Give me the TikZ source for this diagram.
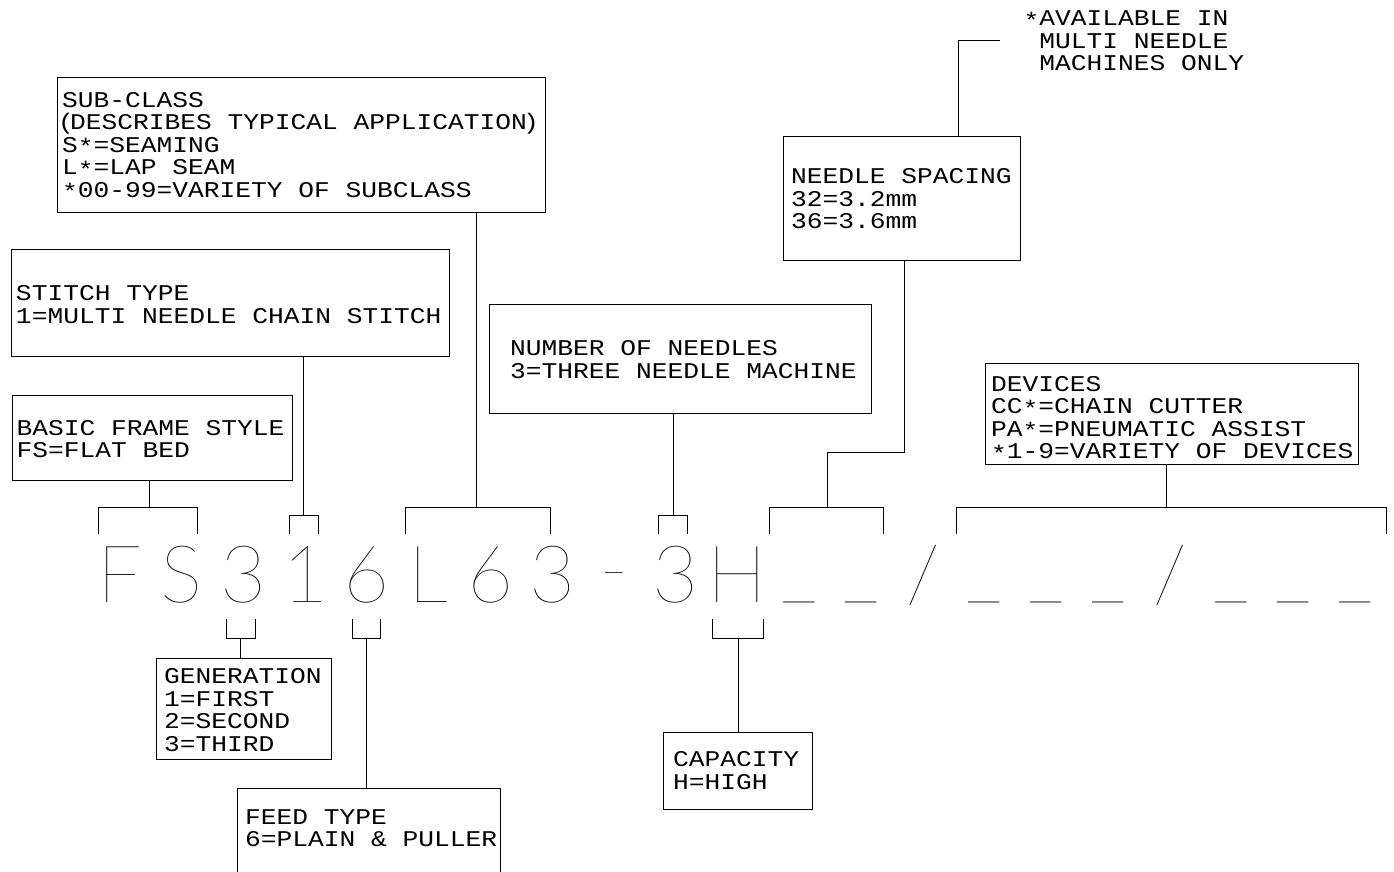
\documentclass[tikz,border=0pt]{standalone}
\usepackage{fontspec}
\newfontfamily\lblfont{Liberation Mono}[FakeStretch=1.167]
\IfFontExistsTF{Lato Hairline}
  {\newfontfamily\codefont{Lato Hairline}\def\usraise{10pt}\def\hyraise{6pt}\def\codesize{79.5}}
  {\IfFontExistsTF{Lato Thin}
    {\newfontfamily\codefont{Lato Thin}\def\usraise{10pt}\def\hyraise{6pt}\def\codesize{79.5}}
    {\IfFontExistsTF{Lato Light}
      {\newfontfamily\codefont{Lato Light}\def\usraise{10pt}\def\hyraise{6pt}\def\codesize{79.5}}
      {\newfontfamily\codefont{DejaVu Sans}\def\usraise{17pt}\def\hyraise{8pt}\def\codesize{78.2}}}}
\newcommand\codecell[1]{\makebox[61.75pt][c]{#1}}
\newcommand\blankcell{\codecell{\raisebox{\usraise}{\textunderscore}}}
\newcommand\lowast{\raisebox{-2.5pt}{*}}
\newcommand\nparen[1]{\makebox[8pt][c]{#1}}
\begin{document}
\begin{tikzpicture}[x=1pt,y=-1pt,line width=1pt,
  box/.style={draw,line width=1pt,inner sep=0pt},
  lbl/.style={font=\lblfont\fontsize{22.5}{22.5}\selectfont,align=left,inner sep=0pt,anchor=west},
  code/.style={font=\codefont\fontsize{\codesize}{90}\selectfont,inner sep=0pt,anchor=base west}]
\useasboundingbox (0,0) rectangle (1394,871);
\clip (0,0) rectangle (1394,871);

% ---------- boxes ----------
\node[box,minimum width=488pt,minimum height=135pt] (sub) at (301,144.5) {};
\node[lbl] (subt) at ([xshift=5pt,yshift=-1.5pt]sub.west) {SUB-CLASS\\\nparen{(}DESCRIBES TYPICAL APPLICATION\nparen{)}\\S\lowast=SEAMING\\L\lowast=LAP SEAM\\\lowast00-99=VARIETY OF SUBCLASS};

\node[box,minimum width=438pt,minimum height=107pt] (stitch) at (230,302.5) {};
\node[lbl] (stitcht) at ([xshift=5pt,yshift=-2pt]stitch.west) {STITCH TYPE\\1=MULTI NEEDLE CHAIN STITCH};

\node[box,minimum width=280pt,minimum height=85pt] (basic) at (152,437.5) {};
\node[lbl] (basict) at ([xshift=4.5pt,yshift=-1.5pt]basic.west) {BASIC FRAME STYLE\\FS=FLAT BED};

\node[box,minimum width=382pt,minimum height=109pt] (needles) at (680,358.5) {};
\node[lbl] (needlest) at ([xshift=21pt,yshift=-1pt]needles.west) {NUMBER OF NEEDLES\\3=THREE NEEDLE MACHINE};

\node[box,minimum width=237pt,minimum height=124pt] (spacing) at (901.5,198) {};
\node[lbl] (spacingt) at ([xshift=8pt,yshift=-1pt]spacing.west) {NEEDLE SPACING\\32=3.2mm\\36=3.6mm};

\node[box,minimum width=373pt,minimum height=101pt] (devices) at (1171.5,413.5) {};
\node[lbl] (devicest) at ([xshift=6pt,yshift=-5pt]devices.west) {DEVICES\\CC\lowast=CHAIN CUTTER\\PA\lowast=PNEUMATIC ASSIST\\\lowast1-9=VARIETY OF DEVICES};

\node[box,minimum width=175pt,minimum height=101pt] (gen) at (243.5,708.5) {};
\node[lbl] (gent) at ([xshift=8pt,yshift=-1.5pt]gen.west) {GENERATION\\1=FIRST\\2=SECOND\\3=THIRD};

\node[box,minimum width=263pt,minimum height=88pt] (feed) at (368.5,832) {};
\node[lbl] (feedt) at ([xshift=8pt,yshift=4pt]feed.west) {FEED TYPE\\6=PLAIN \& PULLER};

\node[box,minimum width=149pt,minimum height=77pt] (cap) at (737.5,770.5) {};
\node[lbl] (capt) at ([xshift=10pt]cap.west) {CAPACITY\\H=HIGH};

\node[lbl] (note) at (1023,40.7) {\lowast AVAILABLE IN\\\hphantom{*}MULTI NEEDLE\\\hphantom{*}MACHINES ONLY};

% ---------- model code ----------
\node[code] (code) at (88.6,602.7) {\codecell{F}\codecell{S}\codecell{3}\codecell{1}\codecell{6}\codecell{L}\codecell{6}\codecell{3}\codecell{\raisebox{\hyraise}{-}}\codecell{3}\codecell{H}\blankcell\blankcell\codecell{/}\blankcell\blankcell\blankcell\codecell{/}\blankcell\blankcell\blankcell};

% ---------- upper brackets ----------
\coordinate (bA) at (149.5,507); \coordinate (bAl) at (98,534);    \coordinate (bAr) at (197,534);
\coordinate (bB) at (303.6,515); \coordinate (bBl) at (289,534);   \coordinate (bBr) at (318,534);
\coordinate (bC) at (476,507);   \coordinate (bCl) at (405,534);   \coordinate (bCr) at (550,534);
\coordinate (bD) at (673,515);   \coordinate (bDl) at (658.5,534); \coordinate (bDr) at (687.5,534);
\coordinate (bE) at (827,507);   \coordinate (bEl) at (769.5,534); \coordinate (bEr) at (883,534);
\coordinate (bF) at (1166,507);  \coordinate (bFl) at (956,534);   \coordinate (bFr) at (1386,534);
\draw (bAl) |- (bA) -| (bAr);  \draw (bA) -- (bA |- basic.south);
\draw (bBl) |- (bB) -| (bBr);  \draw (bB) -- (bB |- stitch.south);
\draw (bCl) |- (bC) -| (bCr);  \draw (bC) -- (bC |- sub.south);
\draw (bDl) |- (bD) -| (bDr);  \draw (bD) -- (bD |- needles.south);
\draw (bEl) |- (bE) -| (bEr);
\coordinate (eE) at (827,452); \coordinate (sE) at (904,452);
\draw (bE) -- (eE) -- (sE) -- (sE |- spacing.south);
\draw (bFl) |- (bF) -| (bFr);  \draw (bF) -- (bF |- devices.south);

% ---------- note leader ----------
\coordinate (nA) at (958,40); \coordinate (nB) at (1000,40);
\draw (nA |- spacing.north) -- (nA) -- (nB);

% ---------- lower brackets ----------
\coordinate (bG) at (240,638); \coordinate (bGl) at (226,619.3); \coordinate (bGr) at (255,619.3);
\coordinate (bH) at (366,638); \coordinate (bHl) at (352,619.3); \coordinate (bHr) at (380,619.3);
\coordinate (bI) at (738,638); \coordinate (bIl) at (712,619.3); \coordinate (bIr) at (763,619.3);
\draw (bGl) |- (bG) -| (bGr);  \draw (bG) -- (bG |- gen.north);
\draw (bHl) |- (bH) -| (bHr);  \draw (bH) -- (bH |- feed.north);
\draw (bIl) |- (bI) -| (bIr);  \draw (bI) -- (bI |- cap.north);
\end{tikzpicture}
\end{document}
